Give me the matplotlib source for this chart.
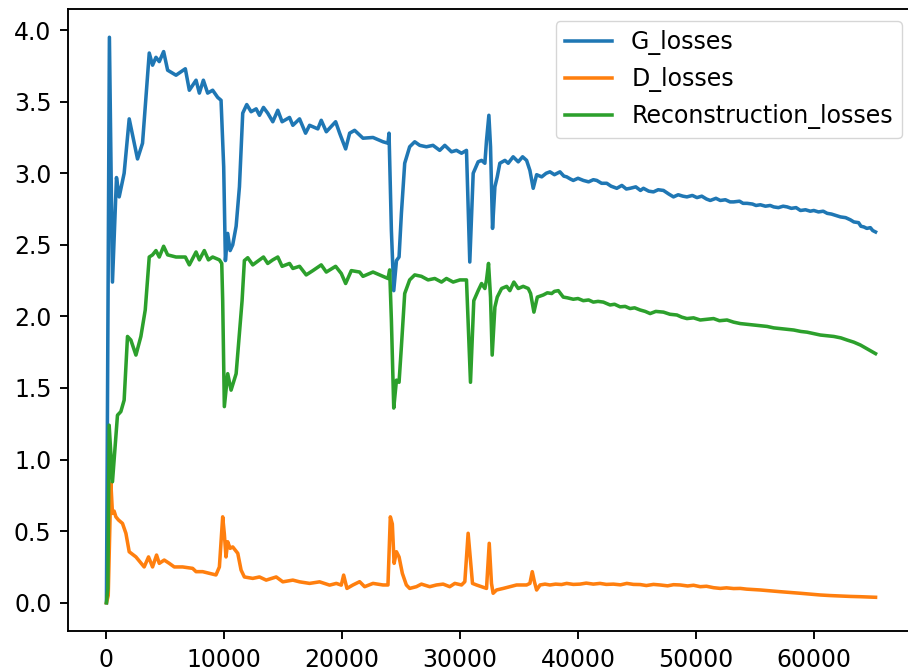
import matplotlib
matplotlib.use("Agg")
import matplotlib.pyplot as plt

# ---- data ----
g_steps = [0, 250, 510, 850, 1080, 1500, 1930, 2635, 3060, 3630, 3910, 4200, 4480, 4850,
           5190, 5900, 6690, 7030, 7600, 7880, 8220, 8585, 9010, 9435, 9720, 9945, 10090,
           10285, 10490, 10710, 11000, 11280, 11560, 11900, 12270, 12700, 12980, 13320,
           13680, 14110, 14535, 14900, 15530, 15810, 16380, 16890, 17230, 17930, 18220,
           18650, 19440, 19780, 20290, 20630, 21050, 21760, 22610, 23460, 23880, 23970,
           24170, 24370, 24600, 24820, 25020, 25300, 25720, 26150, 26575, 27140, 27700,
           28270, 28700, 29270, 29690, 30120, 30540, 30820, 31110, 31530, 31820, 32100,
           32240, 32440, 32580, 32750, 32950, 33150, 33370, 33800, 34080, 34500, 34930,
           35300, 35640, 35920, 36200, 36490, 36920, 37300, 37620, 38000, 38470, 38800,
           39040, 39350, 39600, 40000, 40450, 40900, 41300, 41590, 42000, 42440, 42800,
           43290, 43720, 44100, 44420, 44900, 45300, 45550, 46000, 46400, 46800, 47250,
           47700, 48100, 48500, 48900, 49240, 49700, 50090, 50500, 50900, 51220, 51700,
           52070, 52500, 52900, 53200, 53700, 54000, 54340, 54800, 55100, 55470, 55900,
           56300, 56600, 57000, 57400, 57740, 58100, 58500, 58870, 59300, 59700, 60000,
           60400, 60800, 61140, 61500, 61900, 62270, 62700, 63100, 63400, 63800, 64000,
           64250, 64500, 64800, 65000, 65240]
g_losses = [0.0, 3.95, 2.24, 2.97, 2.835, 3.0, 3.38, 3.10, 3.21, 3.84, 3.755, 3.81, 3.78, 3.85,
            3.72, 3.685, 3.73, 3.58, 3.65, 3.56, 3.65, 3.56, 3.58, 3.53, 3.51, 3.045, 2.39,
            2.58, 2.46, 2.50, 2.63, 2.905, 3.42, 3.48, 3.43, 3.45, 3.405, 3.46,
            3.42, 3.36, 3.44, 3.36, 3.39, 3.335, 3.38, 3.28, 3.335, 3.31, 3.37,
            3.29, 3.36, 3.28, 3.17, 3.28, 3.30, 3.245, 3.25, 3.22, 3.21, 3.28,
            2.60, 2.18, 2.39, 2.415, 2.72, 3.07, 3.185, 3.22, 3.195, 3.185, 3.195,
            3.16, 3.195, 3.15, 3.16, 3.14, 3.16, 2.38, 3.00, 3.08, 3.09, 3.07,
            3.23, 3.405, 3.185, 2.615, 2.905, 2.975, 3.07, 3.09, 3.07, 3.115, 3.08,
            3.115, 3.09, 3.02, 2.895, 2.99, 2.975, 3.00, 3.01, 2.99, 3.01, 2.98,
            2.975, 2.96, 2.95, 2.965, 2.95, 2.94, 2.955, 2.95, 2.93, 2.93, 2.91,
            2.895, 2.915, 2.89, 2.895, 2.905, 2.88, 2.895, 2.875, 2.87, 2.885, 2.88,
            2.855, 2.835, 2.85, 2.84, 2.835, 2.845, 2.83, 2.84, 2.82, 2.81, 2.825,
            2.81, 2.815, 2.80, 2.80, 2.805, 2.79, 2.79, 2.785, 2.775, 2.78, 2.77,
            2.775, 2.765, 2.76, 2.77, 2.765, 2.755, 2.76, 2.74, 2.745, 2.735, 2.74,
            2.73, 2.735, 2.72, 2.715, 2.705, 2.695, 2.69, 2.675, 2.66, 2.655, 2.63,
            2.625, 2.615, 2.62, 2.60, 2.59]

d_steps = [0, 150, 375, 510, 650, 800, 1020, 1360, 1650, 1930, 2500, 3200, 3570, 3910,
           4250, 4480, 4900, 5330, 5750, 6460, 7310, 7600, 8160, 8730, 9290, 9580, 9860,
           10000, 10140, 10285, 10490, 10710, 11140, 11420, 11700, 12410, 12980, 13550,
           14400, 14960, 15810, 16380, 17230, 18080, 18930, 19500, 19920, 20120, 20400,
           20910, 21475, 21900, 22610, 23460, 23880, 24080, 24250, 24400, 24600, 24820,
           25100, 25440, 25720, 26290, 26720, 27420, 27990, 28560, 29120, 29550, 30120,
           30400, 30680, 30880, 31050, 31390, 31820, 32240, 32470, 32660, 32800, 33090,
           33660, 34220, 34790, 35640, 35920, 36120, 36300, 36490, 36780, 37200, 37620,
           38100, 38600, 39040, 39600, 40170, 40700, 41300, 41870, 42400, 43000, 43600,
           44140, 44700, 45270, 45800, 46400, 46970, 47600, 48100, 48670, 49300, 49800,
           50370, 50900, 51500, 52070, 52600, 53200, 53770, 54300, 54900, 55470, 56300,
           57170, 58000, 58870, 59700, 60560, 61400, 62270, 63100, 63960, 65240]
d_losses = [0.0, 0.05, 0.834, 0.624, 0.64, 0.60, 0.578, 0.554, 0.485, 0.356, 0.32, 0.25, 0.32, 0.25,
            0.333, 0.275, 0.298, 0.275, 0.25, 0.25, 0.24, 0.217, 0.217, 0.205, 0.194, 0.25, 0.60,
            0.48, 0.32, 0.426, 0.38, 0.39, 0.345, 0.228, 0.18, 0.17, 0.18, 0.158,
            0.18, 0.146, 0.158, 0.146, 0.135, 0.146, 0.123, 0.135, 0.123, 0.193, 0.10,
            0.124, 0.147, 0.112, 0.135, 0.124, 0.124, 0.60, 0.55, 0.275, 0.356, 0.32,
            0.205, 0.124, 0.10, 0.112, 0.13, 0.112, 0.124, 0.13, 0.112, 0.135, 0.124,
            0.147, 0.485, 0.298, 0.135, 0.124, 0.112, 0.10, 0.415, 0.135, 0.066, 0.089,
            0.10, 0.112, 0.124, 0.124, 0.135, 0.217, 0.147, 0.089, 0.124, 0.13, 0.124,
            0.13, 0.127, 0.135, 0.128, 0.13, 0.137, 0.13, 0.135, 0.128, 0.13, 0.125,
            0.135, 0.128, 0.127, 0.12, 0.128, 0.124, 0.118, 0.126, 0.124, 0.117, 0.122,
            0.112, 0.115, 0.105, 0.10, 0.104, 0.099, 0.10, 0.095, 0.092, 0.089, 0.083,
            0.077, 0.072, 0.066, 0.06, 0.054, 0.05, 0.047, 0.044, 0.042, 0.038]

r_steps = [0, 120, 230, 510, 935, 1220, 1500, 1785, 2070, 2500, 2920, 3290, 3630, 3910,
           4200, 4480, 4850, 5190, 5900, 6690, 7030, 7600, 7880, 8300, 8650, 9010, 9580,
           9780, 9860, 10000, 10285, 10570, 11000, 11280, 11505, 11700, 11985, 12410,
           12980, 13320, 13680, 14110, 14535, 14900, 15530, 15810, 16380, 16945, 17510,
           18220, 18650, 19440, 19920, 20290, 20770, 21475, 21760, 22610, 23460, 23880,
           24025, 24170, 24370, 24600, 24820, 25020, 25300, 25720, 26150, 26720, 27280,
           27850, 28420, 28840, 29410, 29980, 30540, 30880, 31160, 31530, 31820, 32100,
           32240, 32410, 32580, 32720, 32950, 33150, 33520, 33950, 34220, 34560, 34930,
           35350, 35780, 35980, 36260, 36550, 37060, 37400, 37770, 38000, 38330, 38750,
           39100, 39600, 40000, 40450, 40900, 41300, 41700, 42150, 42720, 43100, 43570,
           44000, 44420, 44800, 45270, 45700, 46120, 46600, 47250, 47800, 48390, 48800,
           49240, 49800, 50370, 50900, 51500, 52000, 52640, 53200, 53770, 54300, 54900,
           55500, 56040, 56600, 57170, 57700, 58300, 58900, 59430, 60000, 60560, 61100,
           61700, 62300, 62830, 63400, 63960, 64600, 65240]
r_losses = [0.0, 0.1, 1.24, 0.845, 1.31, 1.335, 1.415, 1.86, 1.835, 1.73, 1.86, 2.045, 2.415, 2.43,
            2.46, 2.415, 2.49, 2.43, 2.415, 2.415, 2.36, 2.45, 2.395, 2.46, 2.395, 2.415, 2.395,
            2.37, 2.11, 1.37, 1.60, 1.485, 1.60, 1.88, 2.11, 2.39, 2.41, 2.36,
            2.395, 2.415, 2.37, 2.395, 2.415, 2.35, 2.37, 2.335, 2.35, 2.29, 2.32,
            2.36, 2.31, 2.35, 2.30, 2.23, 2.32, 2.31, 2.28, 2.31, 2.28, 2.265,
            2.325, 1.975, 1.36, 1.555, 1.54, 1.79, 2.16, 2.255, 2.29, 2.28, 2.255,
            2.265, 2.24, 2.265, 2.24, 2.255, 2.255, 1.54, 2.11, 2.18, 2.23, 2.195,
            2.255, 2.37, 2.135, 1.73, 2.065, 2.135, 2.195, 2.21, 2.18, 2.24, 2.195,
            2.21, 2.195, 2.16, 2.03, 2.135, 2.15, 2.165, 2.16, 2.175, 2.18, 2.135,
            2.13, 2.12, 2.125, 2.11, 2.115, 2.10, 2.105, 2.10, 2.08, 2.085, 2.067,
            2.07, 2.055, 2.06, 2.045, 2.035, 2.02, 2.035, 2.03, 2.015, 2.01, 1.995,
            1.985, 1.99, 1.975, 1.98, 1.985, 1.97, 1.975, 1.96, 1.95, 1.945, 1.94,
            1.935, 1.93, 1.92, 1.915, 1.91, 1.905, 1.895, 1.89, 1.88, 1.87, 1.865,
            1.86, 1.85, 1.835, 1.82, 1.80, 1.77, 1.74]

labels = ["G_losses", "D_losses", "Reconstruction_losses"]

# ---- figure ----
S = 1.7
plt.rcParams.update({
    "font.size": 10 * S,
    "lines.linewidth": 1.5 * S,
    "axes.linewidth": 0.8 * S,
    "xtick.major.size": 3.5 * S,
    "ytick.major.size": 3.5 * S,
    "xtick.major.width": 0.8 * S,
    "ytick.major.width": 0.8 * S,
    "xtick.major.pad": 3.5 * S,
    "ytick.major.pad": 3.5 * S,
})

W, H = 908, 672
fig = plt.figure(figsize=(W / 100, H / 100), dpi=100)
ax = fig.add_axes([68 / W, (H - 631) / H, 846 / W, 622 / H])

ax.plot(g_steps, g_losses, label=labels[0])
ax.plot(d_steps, d_losses, label=labels[1])
ax.plot(r_steps, r_losses, label=labels[2])
ax.spines["right"].set_visible(False)
ax.legend(loc="upper right")

fig.savefig("out.png", dpi=100)
